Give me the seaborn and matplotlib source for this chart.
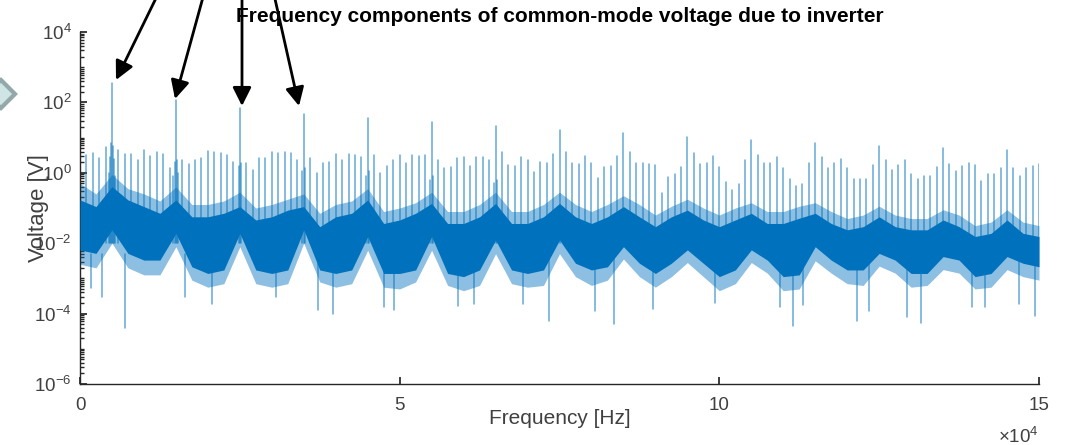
import numpy as np
import pandas as pd
import seaborn as sns
import matplotlib.pyplot as plt
from matplotlib.patches import Polygon
from matplotlib.ticker import FixedLocator, LogLocator, NullFormatter

sns.set_theme(style="white")
plt.rcParams['font.family'] = ['Liberation Sans', 'DejaVu Sans']
plt.rcParams['mathtext.fontset'] = 'custom'
plt.rcParams['mathtext.rm'] = 'Liberation Sans'
plt.rcParams['mathtext.it'] = 'Liberation Sans'

BLUE = '#0072BD'
GREY = '#262626'

# noise floor envelope, every 2.5 kHz (log10 of voltage)
env_khz = [0, 2.5, 5, 7.5, 10, 12.5, 15, 17.5, 20, 22.5, 25, 27.5, 30, 32.5, 35, 37.5,
           40, 42.5, 45, 47.5, 50, 52.5, 55, 57.5, 60, 62.5, 65, 67.5, 70, 72.5, 75,
           77.5, 80, 82.5, 85, 87.5, 90, 92.5, 95, 97.5, 100, 102.5, 105, 107.5, 110,
           112.5, 115, 117.5, 120, 122.5, 125, 127.5, 130, 132.5, 135, 137.5, 140,
           142.5, 145, 147.5, 150]
core_hi = [-0.77, -0.96, -0.39, -0.77, -0.96, -1.15, -0.77, -1.25, -1.25, -1.15, -0.96,
           -1.34, -1.25, -1.06, -0.96, -1.53, -1.25, -1.15, -0.77, -1.44, -1.34, -1.15,
           -0.87, -1.44, -1.44, -1.25, -0.87, -1.44, -1.44, -1.25, -0.87, -1.25, -1.44,
           -1.25, -0.96, -1.25, -1.53, -1.25, -1.06, -1.34, -1.53, -1.34, -1.15, -1.44,
           -1.44, -1.29, -1.15, -1.44, -1.62, -1.53, -1.25, -1.53, -1.62, -1.62, -1.34,
           -1.53, -1.81, -1.72, -1.34, -1.72, -1.81]
core_lo = [-2.19, -2.29, -1.62, -2.29, -2.48, -2.48, -1.72, -2.67, -2.86, -2.76, -1.72,
           -2.76, -2.86, -2.76, -1.62, -2.76, -2.86, -2.76, -1.81, -2.86, -2.86, -2.76,
           -1.81, -2.86, -2.95, -2.76, -1.91, -2.76, -2.86, -2.76, -1.91, -2.57, -2.76,
           -2.67, -2.10, -2.57, -2.86, -2.57, -2.19, -2.57, -2.95, -2.76, -2.19, -2.48,
           -2.95, -2.90, -2.10, -2.48, -2.76, -2.76, -2.29, -2.48, -2.86, -2.86, -2.38,
           -2.48, -2.95, -2.86, -2.38, -2.57, -2.67]
outer_hi = [-0.30, -0.60, -0.05, -0.45, -0.60, -0.80, -0.40, -0.90, -0.90, -0.80, -0.55,
            -1.00, -0.90, -0.75, -0.60, -1.15, -0.90, -0.80, -0.45, -1.10, -1.00, -0.85,
            -0.55, -1.10, -1.10, -0.90, -0.55, -1.10, -1.10, -0.90, -0.55, -0.90, -1.10,
            -0.90, -0.65, -0.90, -1.20, -0.95, -0.75, -1.00, -1.20, -1.00, -0.85, -1.10,
            -1.10, -0.95, -0.85, -1.10, -1.30, -1.20, -0.95, -1.20, -1.30, -1.30, -1.05,
            -1.20, -1.50, -1.40, -1.05, -1.40, -1.50]
outer_lo = [-2.60, -2.70, -2.00, -2.70, -2.90, -2.90, -2.10, -3.05, -3.25, -3.15, -2.10,
            -3.15, -3.25, -3.15, -2.00, -3.10, -3.25, -3.15, -2.20, -3.25, -3.30, -3.10,
            -2.20, -3.20, -3.35, -3.20, -2.30, -3.15, -3.25, -3.20, -2.30, -2.95, -3.20,
            -3.05, -2.45, -2.95, -3.25, -2.95, -2.55, -2.95, -3.35, -3.15, -2.55, -2.85,
            -3.35, -3.30, -2.50, -2.85, -3.15, -3.20, -2.65, -2.85, -3.25, -3.20, -2.75,
            -2.85, -3.30, -3.25, -2.75, -2.95, -3.05]

# harmonic lines every 1 kHz (log10 of peak voltage)
harm_khz = list(range(1, 151))
harm_log = [0.51, 0.55, 0.43, 0.74, 2.56, 0.65, 0.53, 0.54, 0.36, 0.65,
            0.47, 0.60, 0.54, 0.15, 2.07, 0.36, 0.25, 0.36, 0.41, 0.62,
            0.60, 0.55, 0.51, 0.30, 1.83, 0.29, 0.08, 0.41, 0.41, 0.60,
            0.55, 0.60, 0.55, 0.35, 1.66, 0.41, 0.00, 0.27, 0.30, 0.53,
            0.36, 0.53, 0.51, 0.46, 1.55, 0.51, 0.00, 0.19, 0.36, 0.51,
            0.29, 0.51, 0.48, 0.51, 1.43, 0.36, 0.13, 0.16, 0.41, 0.44,
            0.19, 0.44, 0.44, 0.36, 1.33, 0.60, 0.22, 0.19, 0.46, 0.36,
            0.03, 0.32, 0.27, 0.53, 1.23, 0.60, 0.27, 0.25, 0.48, 0.29,
            -0.16, 0.16, 0.19, 0.48, 1.12, 0.60, 0.27, 0.29, 0.25, 0.22,
            -0.56, -0.11, -0.04, 0.17, 1.03, 0.57, 0.25, 0.29, 0.48, 0.17,
            -0.25, -0.49, -0.32, 0.35, 0.93, 0.51, 0.29, 0.29, 0.44, 0.13,
            -0.19, -0.37, -0.32, 0.27, 0.84, 0.44, 0.13, 0.27, 0.38, 0.13,
            -0.19, -0.19, -0.19, 0.22, 0.76, 0.35, 0.08, 0.22, 0.35, -0.02,
            -0.19, -0.09, -0.09, 0.17, 0.71, 0.25, 0.06, 0.19, 0.27, 0.22,
            -0.22, -0.03, -0.03, 0.13, 0.65, 0.13, -0.09, 0.13, 0.19, 0.25]

# DC component and sidebands around the carrier peaks
side_khz = [0.0, 4.5, 4.7, 4.85, 5.15, 5.3, 5.5, 14.6, 14.8, 15.2, 15.4, 24.8, 25.2,
            34.8, 35.2, 44.8, 45.2, 54.8, 55.2, 64.8, 65.2]
side_log = [1.83, 0.00, 0.45, 0.84, 0.75, 0.40, -0.10, -0.10, 0.30, 0.36, 0.00, 0.20,
            0.27, 0.05, 0.13, -0.10, 0.05, -0.20, -0.10, -0.30, -0.20]

# deepest dips of the noise floor
dip_khz = [1.7, 3.4, 7.0, 16.4, 20.7, 30.7, 37.2, 39.5, 47.6, 49.1, 59.2, 61.6, 69.3,
           73.4, 80.6, 83.6, 89.6, 99.4, 109.5, 111.6, 113.1, 121.6, 123.4, 129.4,
           131.5, 139.5, 141.5, 146.9, 149.4]
dip_log = [-3.28, -3.52, -4.42, -3.52, -3.73, -3.52, -3.90, -4.01, -3.82, -3.90, -3.77,
           -3.74, -3.73, -4.20, -3.93, -4.30, -3.88, -3.69, -3.80, -4.35, -3.75, -4.20,
           -3.92, -4.11, -4.26, -3.82, -3.80, -3.73, -4.07]

env = pd.DataFrame({'f': np.array(env_khz) * 1e3,
                    'core_hi': 10.0 ** np.array(core_hi),
                    'core_lo': 10.0 ** np.array(core_lo),
                    'outer_hi': 10.0 ** np.array(outer_hi),
                    'outer_lo': 10.0 ** np.array(outer_lo)})

rows = []
for i, (f, v) in enumerate(zip(harm_khz + side_khz, harm_log + side_log)):
    rows.append((i, f * 1e3, 1e-2))
    rows.append((i, f * 1e3, 10.0 ** v))
spikes = pd.DataFrame(rows, columns=['unit', 'f', 'v'])

rows = []
for i, (f, v) in enumerate(zip(dip_khz, dip_log)):
    rows.append((i, f * 1e3, 10.0 ** -2.3))
    rows.append((i, f * 1e3, 10.0 ** v))
dips = pd.DataFrame(rows, columns=['unit', 'f', 'v'])

W, H = 1069, 445
fig = plt.figure(figsize=(W / 100, H / 100), dpi=100)
ax = fig.add_axes([80 / W, 1 - 384 / H, 959 / W, 352 / H])
ax.set_yscale('log')

ax.fill_between(env['f'], env['outer_lo'], env['outer_hi'], color=BLUE, alpha=0.45, lw=0, zorder=1)
sns.lineplot(data=spikes, x='f', y='v', units='unit', estimator=None, color=BLUE,
             alpha=0.6, lw=1.1, ax=ax, legend=False, zorder=2)
sns.lineplot(data=dips, x='f', y='v', units='unit', estimator=None, color=BLUE,
             alpha=0.6, lw=1.1, ax=ax, legend=False, zorder=2)
ax.fill_between(env['f'], env['core_lo'], env['core_hi'], color=BLUE, lw=0, zorder=3)

ax.set_xlim(0, 150000)
ax.set_ylim(1e-6, 1e4)
ax.set_xticks([0, 50000, 100000, 150000])
ax.set_xticklabels(['0', '5', '10', '15'])
ax.yaxis.set_major_locator(FixedLocator([1e-6, 1e-4, 1e-2, 1e0, 1e2, 1e4]))
ax.set_yticklabels([r'$10^{-6}$', r'$10^{-4}$', r'$10^{-2}$', r'$10^{0}$', r'$10^{2}$', r'$10^{4}$'])
ax.yaxis.set_minor_locator(LogLocator(base=10, subs=np.arange(1, 10), numticks=50))
ax.yaxis.set_minor_formatter(NullFormatter())

for s in ['top', 'right']:
    ax.spines[s].set_visible(False)
for s in ['left', 'bottom']:
    ax.spines[s].set_color(GREY)
    ax.spines[s].set_linewidth(1.0)
ax.tick_params(axis='both', which='both', direction='in', colors=GREY, labelsize=13.5)
ax.tick_params(axis='x', which='major', length=5, pad=9, bottom=True)
ax.tick_params(axis='y', which='major', length=5, pad=6, left=True)
ax.tick_params(axis='y', which='minor', length=3, left=True)
for lab in ax.get_xticklabels() + ax.get_yticklabels():
    lab.set_color('#404040')

ax.set_xlabel('Frequency [Hz]', fontsize=15, color='#404040')
ax.xaxis.set_label_coords(0.5, -0.072)
ax.set_ylabel('Voltage [V]', fontsize=16, color='#404040')
ax.yaxis.set_label_coords(-0.032, 0.5)
ax.text(1.0, -0.15, r'$\times10^{4}$', transform=ax.transAxes, ha='right', va='center',
        fontsize=13.5, color='#404040')

fig.text(559.5 / W, 1 - 17 / H, 'Frequency components of common-mode voltage due to inverter',
         ha='center', va='center', fontsize=15, fontweight='bold', color='black')


def px(x, y):
    return (x / W, 1 - y / H)


# arrows pointing at the carrier peaks
for tail, tip in [((160, -10), (116, 80)), ((205, -10), (175, 99)),
                  ((242, -10), (242, 106)), ((273, -10), (299, 106))]:
    ax.annotate('', xy=px(*tip), xycoords='figure fraction', xytext=px(*tail),
                textcoords='figure fraction', annotation_clip=False,
                arrowprops=dict(arrowstyle='-|>', color='black', lw=2.0, mutation_scale=28,
                                shrinkA=0, shrinkB=0))

# partial chevron at the left edge
fig.add_artist(Polygon([px(-14, 94), px(1, 80), px(15, 94), px(1, 108)], closed=True,
                       facecolor='#cfe4e4', edgecolor='#93a8a8', lw=3,
                       transform=fig.transFigure))

fig.savefig('out.png', dpi=100)
